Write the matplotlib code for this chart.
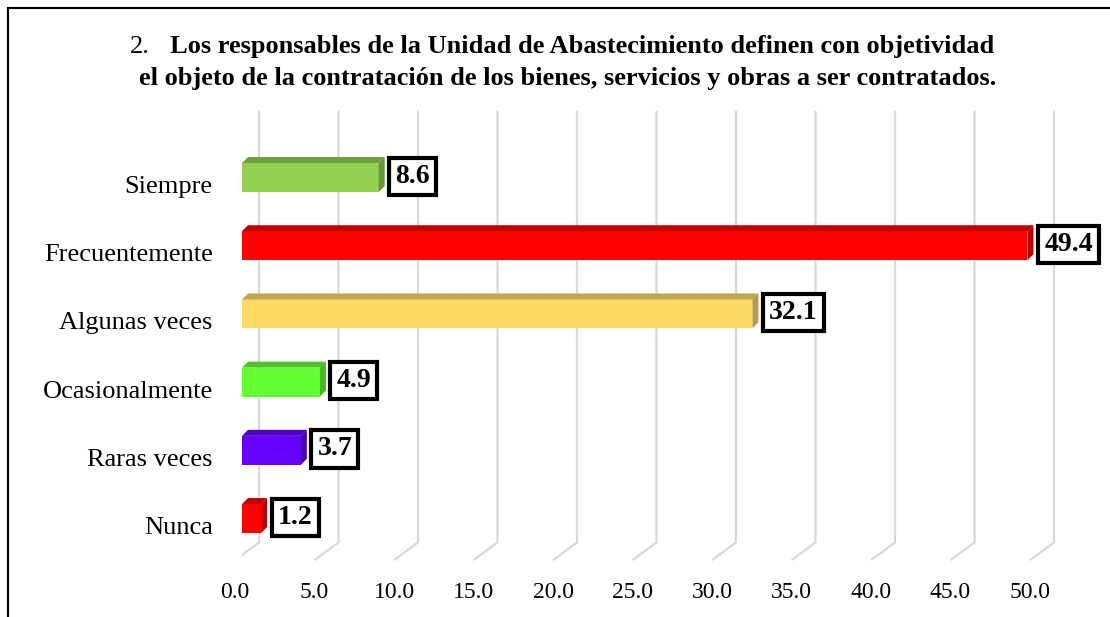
"""Horizontal 3D-style bar chart: responses on objectivity of procurement definitions."""

import matplotlib.pyplot as plt
import matplotlib.transforms as mtransforms
from matplotlib.colors import to_rgb
from matplotlib.lines import Line2D
from matplotlib.patches import Polygon

categories = ["Nunca", "Raras veces", "Ocasionalmente", "Algunas veces",
              "Frecuentemente", "Siempre"]
values = [1.2, 3.7, 4.9, 32.1, 49.4, 8.6]
bar_colors = ["#FF0000", "#6600FF", "#66FF33", "#FFD966", "#FF0000", "#92D050"]
xticks = [0, 5, 10, 15, 20, 25, 30, 35, 40, 45, 50]
title_num = "2."
title_line1 = "Los responsables de la Unidad de Abastecimiento definen con objetividad"
title_line2 = "el objeto de la contratación de los bienes, servicios y obras a ser contratados."

SERIF = "Liberation Serif"
W, H = 1110, 617

fig = plt.figure(figsize=(W / 100, H / 100), dpi=100)
ax = fig.add_axes([242 / W, 1 - 569.7 / H, 54 * 15.9 / W, 467.2 / H])
ax.set_xlim(0, 54)
ax.set_ylim(-0.75, 6.1)
for sp in ax.spines.values():
    sp.set_visible(False)
ax.patch.set_alpha(0)


def px_dx(px):
    return px / (ax.transData.transform((1, 0))[0] - ax.transData.transform((0, 0))[0])


def px_dy(px):
    return px / (ax.transData.transform((0, 1))[1] - ax.transData.transform((0, 0))[1])


def darker(c, f=0.76):
    r, g, b = to_rgb(c)
    return (r * f, g * f, b * f)


# perspective gridlines: back wall + floor edge
grid_top, grid_back, grid_front = 5.98, -0.35, -0.61
back_dx, front_dx = px_dx(17), px_dx(-7)
for v in xticks:
    ax.plot([v + back_dx, v + back_dx, v + front_dx],
            [grid_top, grid_back, grid_front],
            color="#d9d9d9", lw=1.6, zorder=1, solid_capstyle="butt")

# bars with a top and side face
h = 0.425
ddx, ddy = px_dx(6), px_dy(6)
for i, (v, c) in enumerate(zip(values, bar_colors)):
    ax.barh(i, v, height=h, color=c, zorder=3)
    top = [(0, i + h / 2), (v, i + h / 2), (v + ddx, i + h / 2 + ddy), (ddx, i + h / 2 + ddy)]
    side = [(v, i - h / 2), (v, i + h / 2), (v + ddx, i + h / 2 + ddy), (v + ddx, i - h / 2 + ddy)]
    ax.add_patch(Polygon(top, closed=True, fc=darker(c), ec="none", zorder=3))
    ax.add_patch(Polygon(side, closed=True, fc=darker(c, 0.72), ec="none", zorder=3))
    ax.annotate(f"{v:.1f}", xy=(v, i), xytext=(12, 1), textcoords="offset points",
                ha="left", va="center", fontsize=20, fontweight="bold", family=SERIF,
                bbox=dict(boxstyle="square,pad=0.22", fc="white", ec="black", lw=3),
                zorder=5)

ax.set_xticks(xticks, [f"{t:.1f}" for t in xticks], fontsize=17, family=SERIF)
ax.set_yticks(range(len(categories)), categories, fontsize=19, family=SERIF)
ax.tick_params(axis="x", length=0, pad=8.5)
ax.tick_params(axis="y", length=0, pad=21)
shift_x = mtransforms.ScaledTranslation(-7 / 100, 0, fig.dpi_scale_trans)
shift_y = mtransforms.ScaledTranslation(0, -7 / 100, fig.dpi_scale_trans)
for lab in ax.get_xticklabels():
    lab.set_transform(lab.get_transform() + shift_x)
for lab in ax.get_yticklabels():
    lab.set_transform(lab.get_transform() + shift_y)

# title
fig.text(130 / W, 1 - 47 / H, title_num, fontsize=19, family=SERIF, ha="left", va="center")
fig.text(170 / W, 1 - 47 / H, title_line1, fontsize=19, family=SERIF,
         fontweight="bold", ha="left", va="center")
fig.text(568 / W, 1 - 79 / H, title_line2, fontsize=19, family=SERIF,
         fontweight="bold", ha="center", va="center")

# outer frame (top and left edges visible in the crop)
fig.add_artist(Line2D([8 / W, 1], [1 - 8 / H, 1 - 8 / H], color="black", lw=1.5))
fig.add_artist(Line2D([8 / W, 8 / W], [0, 1 - 8 / H], color="black", lw=1.5))

fig.savefig("out.png", dpi=100)
